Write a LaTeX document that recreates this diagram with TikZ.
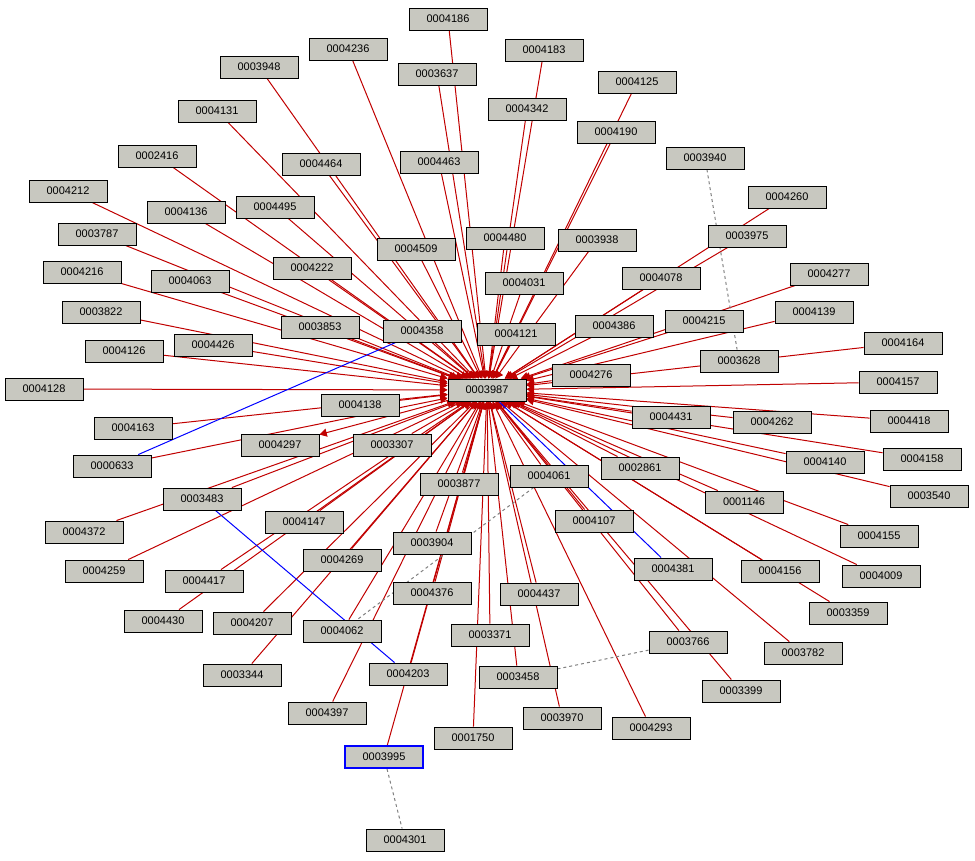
\documentclass[tikz,border=0pt]{standalone}
\usepackage{fontspec}
\setmainfont{Liberation Sans}
\usetikzlibrary{arrows}
\definecolor{mfill}{HTML}{C8C8C0}
\definecolor{mred}{HTML}{C00000}
\pgfdeclarelayer{background}
\pgfsetlayers{background,main}
\tikzstyle{idbox} = [rectangle, draw=black, line width=0.9pt, fill=mfill, minimum width=78pt, minimum height=22pt, inner sep=0pt, font=\fontsize{11}{13}\selectfont]
\tikzstyle{hilite} = [idbox, draw=blue, line width=2pt]
\tikzstyle{cable} = [mred, line width=1pt, ->, >=triangle 60]
\tikzstyle{link} = [blue, line width=1pt]
\tikzstyle{weak} = [gray, line width=1pt, dashed]

\begin{document}
\begin{tikzpicture}[x=1pt,y=-1pt]
  \useasboundingbox (0,0) rectangle (975,860);
  \node (c) [idbox] at (487,390) {0003987};
  \foreach \n/\x/\y in {0004186/448/19, 0004236/348/49, 0004183/544/50, 0003948/259/67,
    0003637/437/74, 0004125/637/82, 0004342/527/109, 0004131/217/111, 0004190/616/132,
    0002416/157/156, 0004464/321/164, 0004463/439/162, 0003940/705/158, 0004212/68/191,
    0004260/787/197, 0004136/186/212, 0004495/275/207, 0003787/97/234, 0004480/505/238,
    0003938/597/240, 0003975/747/236, 0004509/416/249, 0004216/82/272, 0004063/190/281,
    0004222/312/268, 0004031/524/283, 0004078/661/278, 0004277/829/274, 0003822/101/312,
    0003853/320/327, 0004358/422/331, 0004121/516/334, 0004386/614/326, 0004215/704/321,
    0004139/814/312, 0004126/124/351, 0004426/213/345, 0004164/903/343, 0003628/739/361,
    0004276/591/375, 0004128/44/389, 0004157/898/382, 0004138/360/405, 0004431/671/417,
    0004262/772/422, 0004418/909/421, 0004163/133/428, 0004297/280/445, 0003307/392/445,
    0000633/112/466, 0002861/640/468, 0004140/825/462, 0004158/922/459, 0004061/549/476,
    0003877/459/484, 0003540/929/496, 0003483/202/499, 0001146/744/502, 0004372/84/532,
    0004147/304/522, 0004107/594/521, 0004155/879/536, 0003904/432/543, 0004269/342/560,
    0004259/104/571, 0004381/673/569, 0004156/780/571, 0004009/881/576, 0004417/204/581,
    0004376/432/593, 0004437/539/594, 0003359/848/613, 0004430/163/621, 0004207/252/623,
    0004062/342/631, 0003371/490/635, 0003766/688/642, 0003782/803/653, 0003344/242/675,
    0004203/408/674, 0003458/518/677, 0003399/741/691, 0004397/327/713, 0003970/562/718,
    0004293/651/728, 0001750/473/738, 0004301/405/840}
    \node (n\n) [idbox] at (\x,\y) {\n};
  \node (n0003995) [hilite] at (384,757) {0003995};
  \begin{pgfonlayer}{background}
    \foreach \n in {0004186, 0004236, 0004183, 0003948, 0003637, 0004125, 0004342, 0004131,
      0004190, 0002416, 0004464, 0004463, 0004212, 0004260, 0004136, 0004495, 0003787,
      0004480, 0003938, 0003975, 0004509, 0004216, 0004063, 0004222, 0004031, 0004078,
      0004277, 0003822, 0003853, 0004358, 0004121, 0004386, 0004215, 0004139, 0004126,
      0004426, 0004164, 0004276, 0004128, 0004157, 0004138, 0004431, 0004262, 0004418,
      0004163, 0003307, 0000633, 0002861, 0004140, 0004158, 0004061, 0003877, 0003540,
      0003483, 0001146, 0004372, 0004147, 0004107, 0004155, 0003904, 0004269, 0004259,
      0004156, 0004009, 0004417, 0004376, 0004437, 0003359, 0004430, 0004207, 0004062,
      0003371, 0003766, 0003782, 0003344, 0004203, 0003458, 0003399, 0004397, 0003970,
      0004293, 0001750, 0003995}
      \draw [cable] (n\n) -- (c);
    \draw [cable] (c) -- (n0004297);
    \draw [link] (n0000633) -- (n0004358);
    \draw [link] (n0003483) -- (n0004203);
    \draw [link] (c) -- (n0004381);
    \draw [weak] (n0003940) -- (n0003628);
    \draw [weak] (n0004061) -- (n0004062);
    \draw [weak] (n0003766) -- (n0003458);
    \draw [weak] (n0003995) -- (n0004301);
  \end{pgfonlayer}
\end{tikzpicture}
\end{document}
